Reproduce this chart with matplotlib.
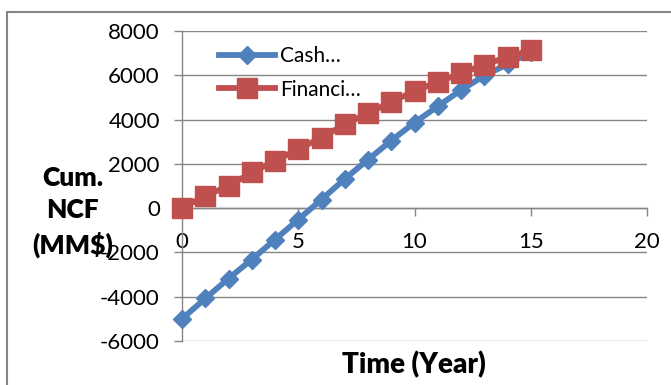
import matplotlib.pyplot as plt
from matplotlib.patches import Rectangle

plt.rcParams["font.family"] = ["Lato", "DejaVu Sans"]
plt.rcParams["axes.unicode_minus"] = False

years = list(range(16))
cash = [-5000, -4080, -3180, -2320, -1420, -515, 390, 1320, 2190, 3050,
        3860, 4600, 5330, 5980, 6500, 7050]
financing = [0, 555, 1000, 1610, 2135, 2660, 3190, 3780, 4290, 4790,
             5290, 5700, 6090, 6470, 6830, 7130]
legend_labels = ["Cash…", "Financi…"]
x_ticks = [0, 5, 10, 15, 20]
y_ticks = [-6000, -4000, -2000, 0, 2000, 4000, 6000, 8000]

W, H = 671, 385
fig = plt.figure(figsize=(W / 100, H / 100), dpi=100)
ax = fig.add_axes([182 / W, 1 - 341 / H, (647 - 182) / W, (341 - 31) / H])

grey = "#868686"
ax.plot(years, cash, color="#4F81BD", lw=4.2, marker="D", ms=9.5,
        mec="#4F81BD", label=legend_labels[0], zorder=3, clip_on=False)
ax.plot(years, financing, color="#C0504D", lw=4.2, marker="s", ms=14,
        mec="#C0504D", label=legend_labels[1], zorder=4, clip_on=False)

ax.set_xlim(0, 20)
ax.set_ylim(-6000, 8000)
ax.set_xticks(x_ticks)
ax.set_yticks(y_ticks)
ax.yaxis.grid(True, color=grey, lw=1.0)
ax.set_axisbelow(True)

for s in ["top", "right"]:
    ax.spines[s].set_visible(False)
ax.spines["bottom"].set_position(("data", 0))
ax.spines["left"].set_color(grey)
ax.spines["bottom"].set_color(grey)
ax.spines["left"].set_linewidth(1.0)
ax.spines["bottom"].set_linewidth(1.0)
ax.tick_params(axis="both", direction="out", color=grey, length=6,
               width=1.0, labelsize=16)
ax.tick_params(axis="y", pad=10)
ax.tick_params(axis="x", pad=11)

ax.legend(loc="upper left", bbox_to_anchor=(219 / W, 1 - 46 / H),
          bbox_transform=fig.transFigure, frameon=False, fontsize=15,
          handlelength=2.7, handletextpad=0.25, labelspacing=0.65,
          borderpad=0, borderaxespad=0)

fig.text(73 / W, 1 - 212 / H, "Cum.\nNCF\n(MM$)", ha="center", va="center",
         fontsize=19, fontweight="heavy", linespacing=1.4)
fig.text(414 / W, 1 - 365 / H, "Time (Year)", ha="center", va="center",
         fontsize=20, fontweight="heavy")

fig.patches.append(Rectangle((7 / W, -0.1), 1.1, 1 - 12 / H + 0.1,
                             transform=fig.transFigure, fill=False,
                             edgecolor=grey, lw=1.5))

fig.savefig("out.png", dpi=100)
